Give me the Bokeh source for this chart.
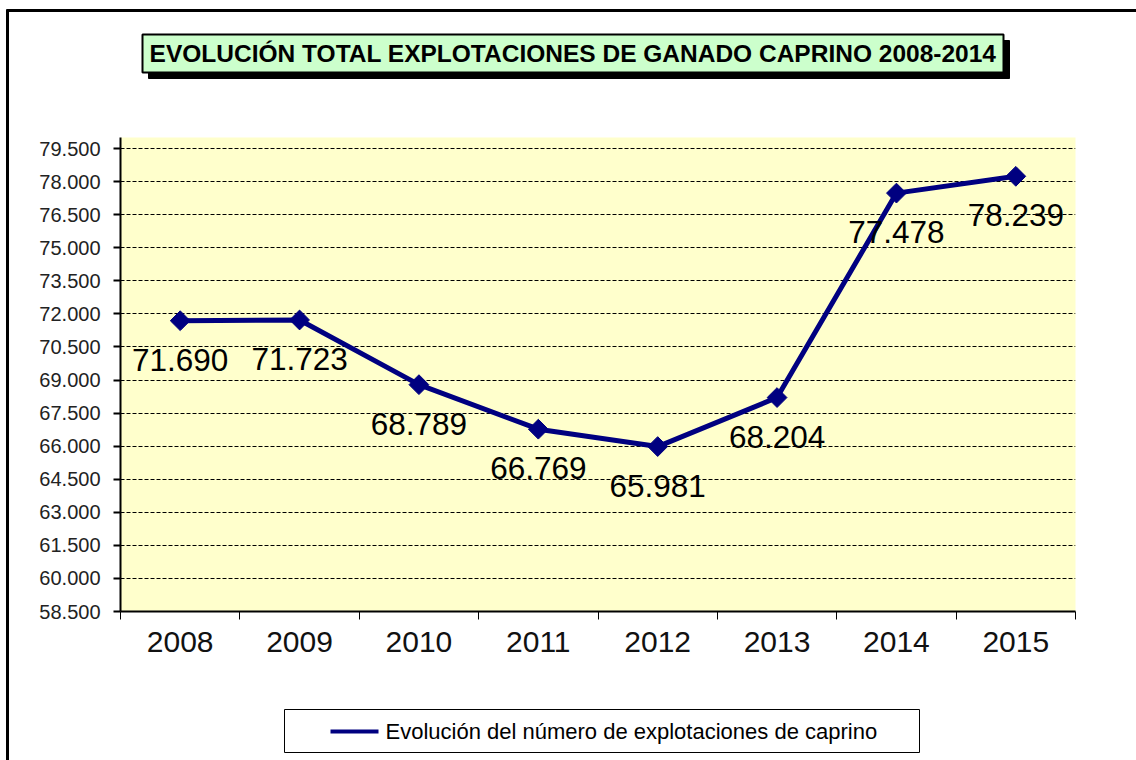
from bokeh.plotting import figure
from bokeh.models import FixedTicker, ColumnDataSource, Range1d
from bokeh.core.properties import value
from bokeh.embed import file_html
from bokeh.resources import INLINE

# ---- data ----
years = ["2008", "2009", "2010", "2011", "2012", "2013", "2014", "2015"]
explotaciones = [71690, 71723, 68789, 66769, 65981, 68204, 77478, 78239]
y_ticks = list(range(58500, 79501, 1500))
title_text = "EVOLUCIÓN TOTAL EXPLOTACIONES DE GANADO CAPRINO 2008-2014"
legend_text = "Evolución del número de explotaciones de caprino"


def fmt(v):
    return f"{v:,}".replace(",", ".")


xs = [i + 0.5 for i in range(len(years))]
src = ColumnDataSource(dict(x=xs, y=explotaciones,
                            lbl=[fmt(v) for v in explotaciones]))

p = figure(width=1136, height=760, output_backend="svg", toolbar_location=None,
           x_range=Range1d(0, len(years)), y_range=Range1d(58500, 80000),
           min_border_left=120, min_border_right=61,
           min_border_top=137, min_border_bottom=149)
p.background_fill_color = "#FFFFCC"
p.border_fill_color = "white"
p.outline_line_color = None

# pixel ranges (page coordinates of the plot frame) for decorations
p.extra_x_ranges = {"px": Range1d(120, 1075)}
p.extra_y_ranges = {"px": Range1d(611, 137)}

p.yaxis.ticker = FixedTicker(ticks=y_ticks, minor_ticks=[])
p.yaxis.major_label_overrides = {t: fmt(t) for t in y_ticks}
p.yaxis.axis_line_width = 2
p.yaxis.axis_line_color = "black"
p.yaxis.major_tick_line_color = "black"
p.yaxis.major_tick_line_width = 2
p.yaxis.major_tick_out = 7
p.yaxis.major_tick_in = 0
p.yaxis.major_label_standoff = 13
p.yaxis.major_label_text_font = "Liberation Sans"
p.yaxis.major_label_text_font_size = "20px"
p.yaxis.major_label_text_color = "#222222"

p.xaxis.ticker = FixedTicker(ticks=xs, minor_ticks=list(range(len(years) + 1)))
p.xaxis.major_label_overrides = {x: y for x, y in zip(xs, years)}
p.xaxis.axis_line_width = 2
p.xaxis.axis_line_color = "black"
p.xaxis.major_tick_line_color = None
p.xaxis.major_tick_out = 8
p.xaxis.major_tick_in = 0
p.xaxis.minor_tick_line_color = "black"
p.xaxis.minor_tick_line_width = 1
p.xaxis.minor_tick_out = 8
p.xaxis.minor_tick_in = 0
p.xaxis.major_label_standoff = 12
p.xaxis.major_label_text_font = "Liberation Sans"
p.xaxis.major_label_text_font_size = "30px"
p.xaxis.major_label_text_color = "#111111"

p.xgrid.grid_line_color = None
p.ygrid.ticker = FixedTicker(ticks=y_ticks)
p.ygrid.grid_line_color = "black"
p.ygrid.grid_line_width = 1
p.ygrid.grid_line_dash = "4 2"

navy = "#000080"
p.line("x", "y", source=src, line_color=navy, line_width=5)
p.scatter("x", "y", source=src, marker="square", angle=0.785398, size=14,
          fill_color=navy, line_color=navy)
p.text("x", "y", text="lbl", source=src, text_align="center",
       text_baseline="middle", y_offset=39, text_color="black",
       text_font=value("Liberation Sans"), text_font_size="31.5px")

# ---- decorations outside the frame (page pixel coordinates) ----
deco = dict(x_range_name="px", y_range_name="px", level="overlay")
# outer frame: left and top edges
p.segment(x0=[7], y0=[770], x1=[7], y1=[9], line_color="black", line_width=3, **deco)
p.segment(x0=[6], y0=[10], x1=[1150], y1=[10], line_color="black", line_width=3, **deco)
# title box with shadow
p.quad(left=[148], right=[1009], top=[40], bottom=[78],
       fill_color="black", line_color="black", **deco)
p.quad(left=[142], right=[1003], top=[34], bottom=[72],
       fill_color="#CCFFCC", line_color="black", line_width=2, **deco)
p.text(x=[572.5], y=[53], text=[title_text], text_align="center",
       text_baseline="middle", text_color="black",
       text_font=value("Liberation Sans"), text_font_style="bold",
       text_font_size="24.5px", **deco)
# legend key
p.quad(left=[284], right=[919], top=[709], bottom=[752],
       fill_color="white", line_color="black", line_width=1, **deco)
p.segment(x0=[330], y0=[731], x1=[378], y1=[731], line_color=navy,
          line_width=4, **deco)
p.scatter(x=[354], y=[731], marker="square", angle=0.785398, size=9,
          fill_color=navy, line_color=navy, **deco)
p.text(x=[385], y=[731], text=[legend_text], text_align="left",
       text_baseline="middle", text_color="black",
       text_font=value("Liberation Sans"), text_font_size="22px", **deco)

open("out.html", "w").write(file_html(p, INLINE))
